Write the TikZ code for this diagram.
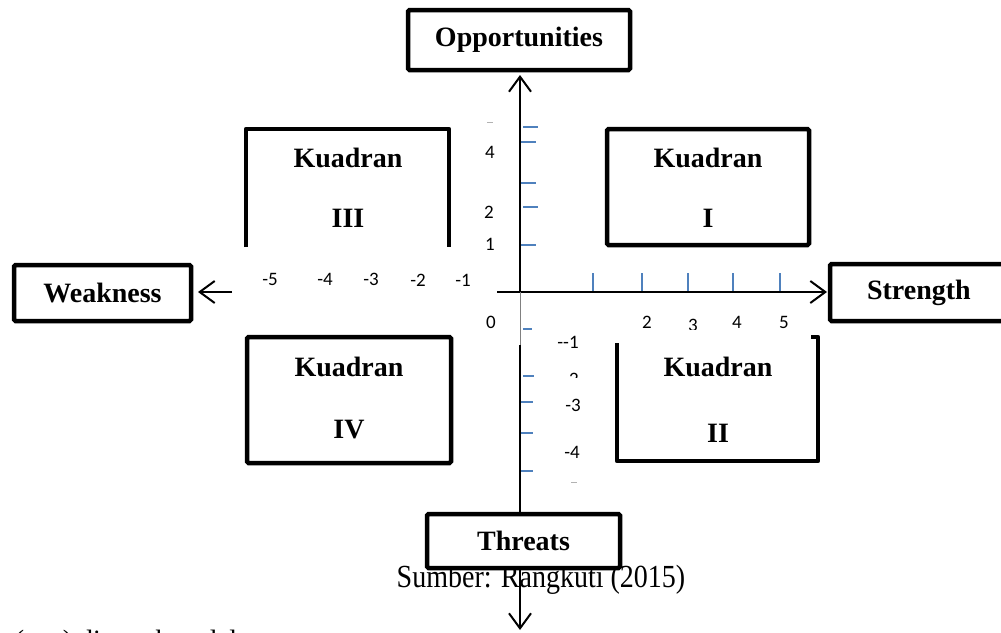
\documentclass[tikz,border=0pt]{standalone}
\usepackage{fontspec}
\setmainfont{Liberation Serif}
\newfontfamily\numfont{Carlito}
\usetikzlibrary{arrows.meta}
\definecolor{tickblue}{HTML}{4F81BD}
\tikzset{
  box/.style={draw, line width=4.5pt, rounded corners=1.5pt, fill=white, inner sep=0pt,
              font=\fontsize{28}{30}\selectfont\bfseries},
  ubox/.style={line width=4.5pt, line join=round},
  boldlbl/.style={font=\fontsize{28}{30}\selectfont\bfseries, inner sep=0pt},
  numlbl/.style={font=\numfont\fontsize{19}{21}\selectfont, inner sep=0pt},
  axisline/.style={line width=1.6pt},
  axarrow/.style={axisline, -{Straight Barb[length=15pt,width=22pt,line width=2pt]}},
  tickmark/.style={tickblue, line width=2pt},
  faint/.style={gray!60, line width=1pt},
}
\begin{document}
\begin{tikzpicture}[x=1pt,y=-1pt]
\useasboundingbox (0,0) rectangle (1001,632);

% source line (partly hidden by the Threats box)
\node[anchor=base, inner sep=0pt] (src) at (541,587)
  {\scalebox{1}[1.15]{\fontsize{28}{30}\selectfont Sumber: Rangkuti (2015)}};
% cut-off line at the bottom edge
\node[anchor=base west, inner sep=0pt, font=\fontsize{28}{30}\selectfont] (frag) at (0,649)
  {t (+,+) ditetapkan dalam};

% outer boxes
\node[box, minimum width=222pt, minimum height=60pt] (opp) at (519,40) {Opportunities};
\node[box, minimum width=177pt, minimum height=56pt] (weak) at (102.5,293) {Weakness};
\node[box, minimum width=182pt, minimum height=57pt, text width=180pt, align=left] (str) at (921,292.5)
  {\hspace*{36pt}Strength};
\node[box, minimum width=193pt, minimum height=54pt] (thr) at (523.5,541) {Threats};

% quadrant frames
\node[draw, line width=4.5pt, rounded corners=1.5pt, minimum width=202pt, minimum height=116pt,
      inner sep=0pt] (q1) at (708,187) {};
\node[draw, line width=4.5pt, rounded corners=1.5pt, minimum width=204pt, minimum height=126pt,
      inner sep=0pt] (q4) at (349,400) {};
\draw[ubox] (246,247) -- (246,129) -- (449,129) -- (449,247);
\draw[ubox] (617,343) -- (617,461) -- (818,461) -- (818,337) -- (811,337);

% quadrant labels
\node[boldlbl] (q3a) at (348,158) {Kuadran};
\node[boldlbl] (q3b) at (348,218) {III};
\node[boldlbl] (q1a) at (708,158) {Kuadran};
\node[boldlbl] (q1b) at (708,218) {I};
\node[boldlbl] (q4a) at (349,367) {Kuadran};
\node[boldlbl] (q4b) at (349,430) {IV};
\node[boldlbl] (q2a) at (718,367) {Kuadran};
\node[boldlbl] (q2b) at (718,433) {II};

% axes
\coordinate (O) at (520,292);
\coordinate (xL) at (497,292);
\coordinate (xR) at (827,292);
\coordinate (yT) at (520,75);
\coordinate (yB) at (520,630);
\coordinate (wT) at (232,292);
\coordinate (wH) at (198,292);
\coordinate (g1) at (520,345);
\draw[axarrow] (xL) -- (xR);
\draw[axarrow] (O) -- (yT);
\draw[gray, line width=1pt] (O) -- (g1);
\draw[axisline] (g1) -- (g1 |- thr.north);
\draw[axarrow] (yB |- thr.south) -- (yB);
\draw[axarrow] (wT) -- (wH);

% ticks on the positive y axis
\foreach \y/\a/\b in {127/523/538,142/521/536,183/521/536,207/523/538,245/521/536}
  \draw[tickmark] (\a,\y) -- (\b,\y);
% ticks on the negative y axis
\foreach \y/\a/\b in {329/523/532,376/523/534,402/521/533,433/521/533,471/521/533}
  \draw[tickmark] (\a,\y) -- (\b,\y);
% ticks on the positive x axis
\foreach \x in {593,642,688,733,780}
  \draw[tickmark] (\x,273) -- (\x,291);

% faint remnants
\draw[faint] (487,122) -- (493,122);
\draw[faint] (571,482) -- (577,482);

% numbers
\node[numlbl] (m5) at (270,279) {-5};
\node[numlbl] (m4) at (325,279) {-4};
\node[numlbl] (m3) at (371,279) {-3};
\node[numlbl] (m2) at (418,280) {-2};
\node[numlbl] (m1) at (463,280) {-1};
\node[numlbl] (y4) at (490,152) {4};
\node[numlbl] (y2) at (489,212) {2};
\node[numlbl] (y1) at (490,244) {1};
\node[numlbl] (z0) at (491,322) {0};
\node[numlbl] (x2) at (647,322) {2};
\begin{scope}
  \clip (680,300) rectangle (710,329);
  \node[numlbl] (x3) at (693,325) {3};
\end{scope}
\node[numlbl] (x4) at (737,322) {4};
\node[numlbl] (x5) at (784,322) {5};
\node[numlbl] (ym1) at (568,342) {-{}-1};
\begin{scope}
  \clip (555,360) rectangle (590,377);
  \node[numlbl] (ym2) at (571,379) {-2};
\end{scope}
\node[numlbl] (ym3) at (573,405) {-3};
\node[numlbl] (ym4) at (572,452) {-4};
\end{tikzpicture}
\end{document}
